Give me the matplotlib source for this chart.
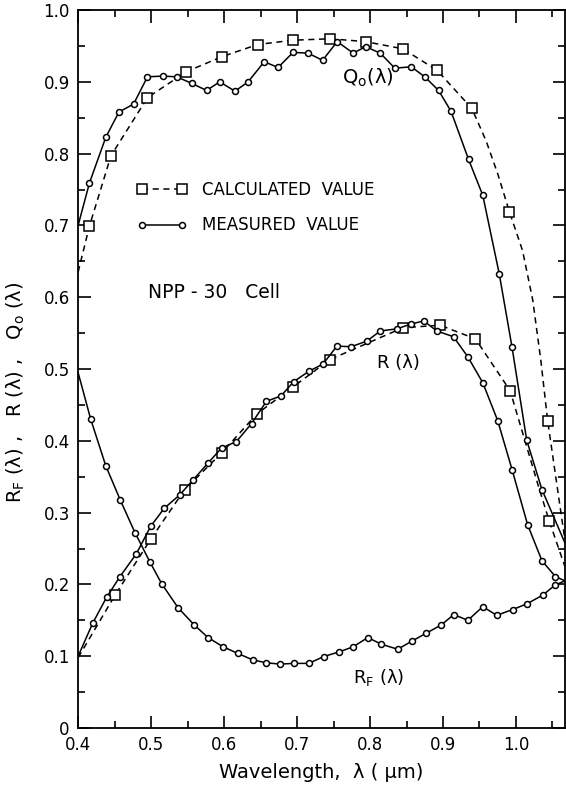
import matplotlib
matplotlib.use("Agg")
import matplotlib.pyplot as plt
from matplotlib.lines import Line2D
from matplotlib.ticker import MultipleLocator, FixedFormatter, FixedLocator

# Q_o(lambda) measured
qm_x = [0.400, 0.4155, 0.438, 0.456, 0.476, 0.495, 0.516, 0.535, 0.5555, 0.576, 0.594, 0.615,
        0.633, 0.655, 0.674, 0.6945, 0.715, 0.735, 0.755, 0.777, 0.794, 0.814, 0.834, 0.8565,
        0.875, 0.894, 0.911, 0.935, 0.9545, 0.977, 0.9945, 1.0147, 1.0356, 1.067]
qm_y = [0.700, 0.759, 0.823, 0.858, 0.869, 0.907, 0.908, 0.907, 0.898, 0.888, 0.900, 0.887,
        0.900, 0.928, 0.920, 0.941, 0.940, 0.930, 0.956, 0.940, 0.949, 0.940, 0.919, 0.921,
        0.907, 0.888, 0.859, 0.792, 0.742, 0.633, 0.531, 0.401, 0.332, 0.258]

# Q_o(lambda) calculated
qc_x = [0.400, 0.4155, 0.445, 0.495, 0.548, 0.597, 0.646, 0.6945, 0.7457, 0.794, 0.845, 0.892,
        0.9395, 0.959, 0.975, 0.991, 1.009, 1.023, 1.034, 1.0434, 1.067]
qc_y = [0.635, 0.699, 0.797, 0.878, 0.914, 0.935, 0.952, 0.958, 0.960, 0.956, 0.946, 0.916,
        0.863, 0.818, 0.772, 0.719, 0.665, 0.596, 0.5125, 0.428, 0.262]
qc_marks = [1, 2, 3, 4, 5, 6, 7, 8, 9, 10, 11, 12, 15, 19]

# R(lambda) measured
rm_x = [0.400, 0.420, 0.439, 0.4575, 0.480, 0.4995, 0.518, 0.5395, 0.558, 0.578, 0.5966, 0.617,
        0.6376, 0.658, 0.678, 0.6955, 0.7165, 0.7356, 0.7547, 0.774, 0.7958, 0.814, 0.837,
        0.8555, 0.8737, 0.8915, 0.9144, 0.934, 0.9545, 0.975, 0.9946, 1.016, 1.0356, 1.054, 1.067]
rm_y = [0.100, 0.146, 0.182, 0.211, 0.243, 0.281, 0.306, 0.325, 0.346, 0.369, 0.390, 0.399,
        0.424, 0.455, 0.4625, 0.4825, 0.497, 0.507, 0.532, 0.531, 0.539, 0.553, 0.556,
        0.5625, 0.567, 0.553, 0.545, 0.517, 0.481, 0.428, 0.360, 0.283, 0.233, 0.211, 0.205]

# R(lambda) calculated
rc_x = [0.400, 0.4506, 0.4995, 0.546, 0.5966, 0.645, 0.6945, 0.7447, 0.845, 0.896, 0.9445,
        0.9919, 1.031, 1.0457, 1.067]
rc_y = [0.098, 0.185, 0.263, 0.332, 0.383, 0.4375, 0.475, 0.513, 0.5575, 0.561, 0.542,
        0.470, 0.336, 0.288, 0.225]
rc_marks = [1, 2, 3, 4, 5, 6, 7, 8, 9, 10, 11, 13]

# R_F(lambda) measured
rf_x = [0.400, 0.4173, 0.438, 0.458, 0.478, 0.4985, 0.5145, 0.537, 0.5587, 0.578, 0.598, 0.6185,
        0.639, 0.6568, 0.6763, 0.6955, 0.716, 0.7365, 0.7575, 0.7766, 0.797, 0.8155, 0.838,
        0.8573, 0.877, 0.8975, 0.9148, 0.934, 0.9545, 0.9736, 0.9955, 1.015, 1.0366, 1.0535, 1.067]
rf_y = [0.495, 0.430, 0.365, 0.317, 0.272, 0.231, 0.201, 0.1675, 0.144, 0.126, 0.1135, 0.104,
        0.095, 0.091, 0.089, 0.090, 0.090, 0.0995, 0.106, 0.113, 0.126, 0.1167, 0.1097,
        0.121, 0.132, 0.1435, 0.158, 0.150, 0.169, 0.157, 0.165, 0.173, 0.185, 0.199, 0.205]

x_ticks = [0.4, 0.5, 0.6, 0.7, 0.8, 0.9, 1.0]
x_labels = ["0.4", "0.5", "0.6", "0.7", "0.8", "0.9", "1.0"]
y_ticks = [0.0, 0.1, 0.2, 0.3, 0.4, 0.5, 0.6, 0.7, 0.8, 0.9, 1.0]
y_labels = ["0", "0.1", "0.2", "0.3", "0.4", "0.5", "0.6", "0.7", "0.8", "0.9", "1.0"]

plt.rcParams["font.family"] = "DejaVu Sans"

fig = plt.figure(figsize=(5.66, 7.85), dpi=100)
ax = fig.add_axes([0.138, 0.0726, 0.860, 0.9146])

circ = dict(marker="o", markersize=4.3, markerfacecolor="white", markeredgecolor="black",
            markeredgewidth=1.1, color="black", lw=1.1)
sq = dict(marker="s", markersize=6.8, markerfacecolor="white", markeredgecolor="black",
          markeredgewidth=1.1, color="black", lw=1.1, ls=(0, (4, 3)))

ax.plot(qc_x, qc_y, markevery=qc_marks, zorder=2, **sq)
ax.plot(qm_x, qm_y, markevery=list(range(1, len(qm_x) - 1)), zorder=3, **circ)
ax.plot(rc_x, rc_y, markevery=rc_marks, zorder=2, **sq)
ax.plot(rm_x, rm_y, markevery=list(range(1, len(rm_x) - 1)), zorder=3, **circ)
ax.plot(rf_x, rf_y, markevery=list(range(1, len(rf_x) - 1)), zorder=3, **circ)

ax.set_xlim(0.4, 1.067)
ax.set_ylim(0, 1.0)

ax.xaxis.set_major_locator(FixedLocator(x_ticks))
ax.xaxis.set_major_formatter(FixedFormatter(x_labels))
ax.yaxis.set_major_locator(FixedLocator(y_ticks))
ax.yaxis.set_major_formatter(FixedFormatter(y_labels))
ax.xaxis.set_minor_locator(MultipleLocator(0.05))
ax.yaxis.set_minor_locator(MultipleLocator(0.05))
ax.tick_params(which="both", direction="in", top=True, right=True, width=1.2)
ax.tick_params(which="major", length=9, labelsize=12, pad=6)
ax.tick_params(which="minor", length=5)
for s in ax.spines.values():
    s.set_linewidth(1.3)

ax.set_xlabel("Wavelength,  λ ( μm)", fontsize=14, labelpad=6)
ax.set_ylabel("R$_{\\rm F}$ (λ) ,   R (λ) ,   Q$_{\\rm o}$ (λ)", fontsize=14)
ax.yaxis.set_label_coords(-0.106, 0.468)

ax.text(0.4958, 0.606, "NPP - 30   Cell", fontsize=13.5, va="center", ha="left")
ax.text(0.761, 0.906, "Q$_{\\rm o}$(λ)", fontsize=14, va="center", ha="left")
ax.text(0.809, 0.508, "R (λ)", fontsize=13, va="center", ha="left")
ax.text(0.776, 0.071, "R$_{\\rm F}$ (λ)", fontsize=13, va="center", ha="left")

h_calc = Line2D([], [], **sq)
h_meas = Line2D([], [], **circ)
ax.legend([h_calc, h_meas], ["CALCULATED  VALUE", "MEASURED  VALUE"], loc="upper left",
          bbox_to_anchor=(0.12, 0.762), frameon=False, numpoints=2, handlelength=3.0,
          handletextpad=0.9, labelspacing=1.05, fontsize=12, borderpad=0, borderaxespad=0)

fig.savefig("out.png", dpi=100)
